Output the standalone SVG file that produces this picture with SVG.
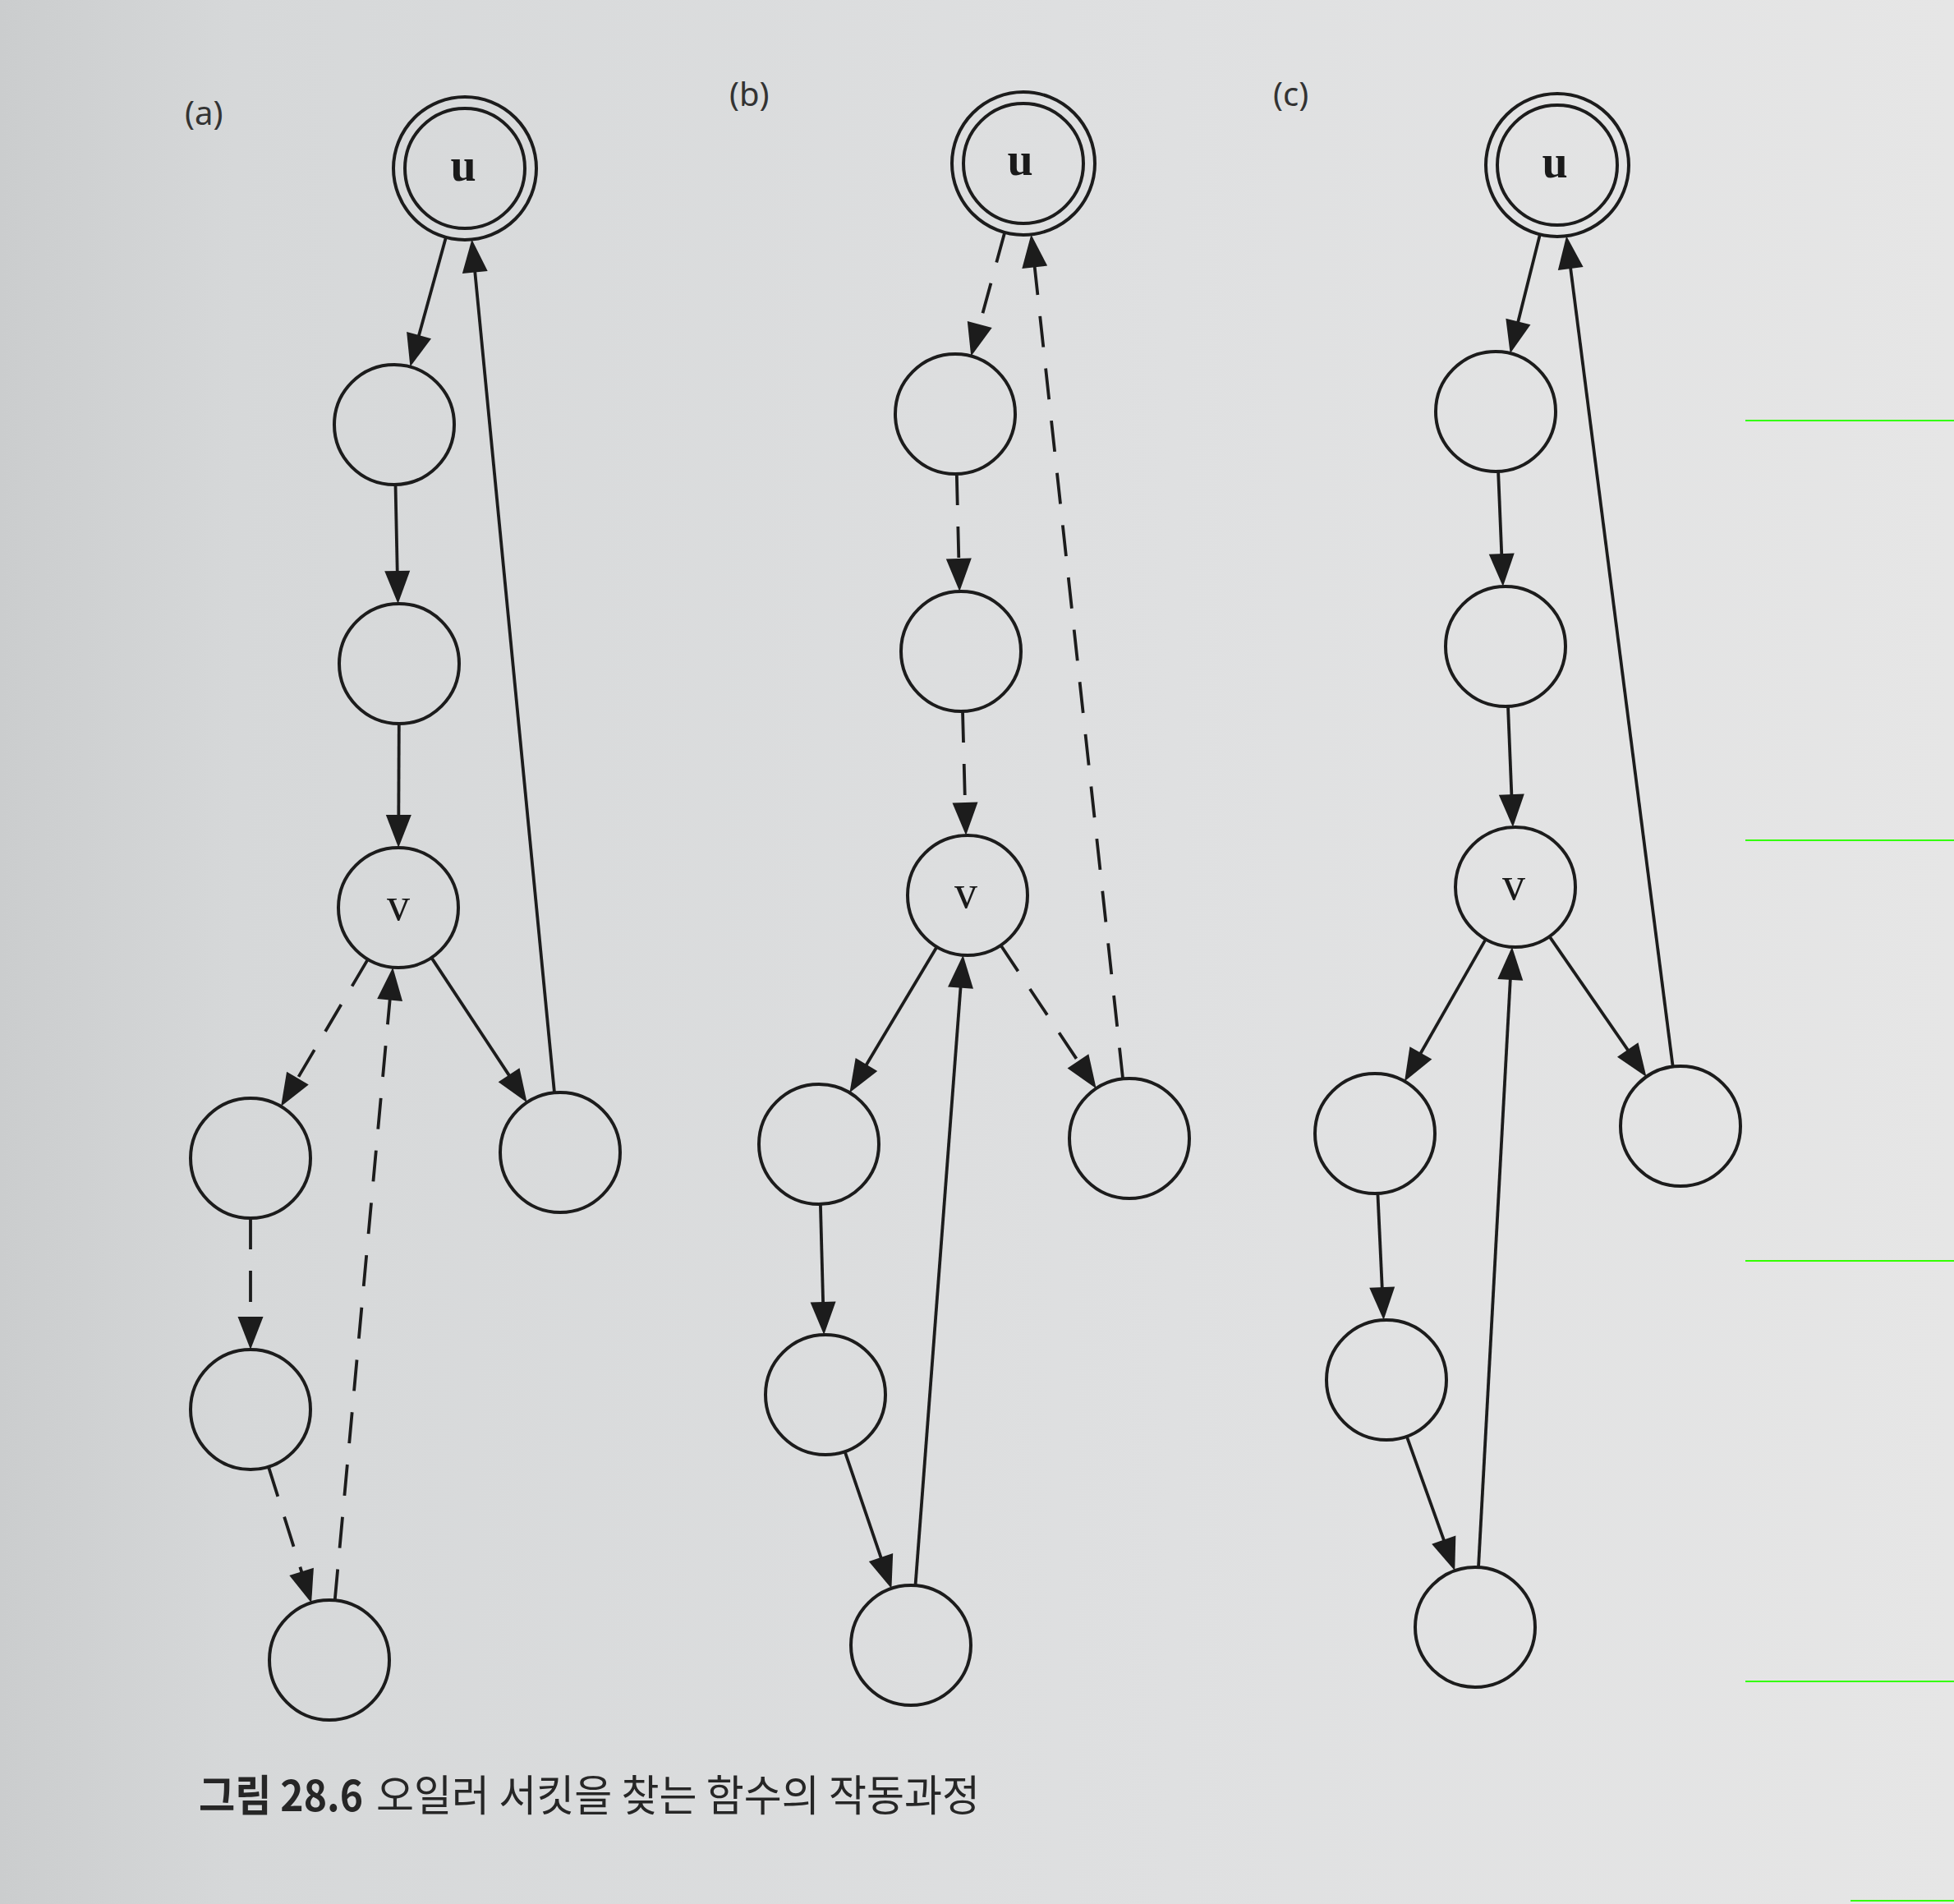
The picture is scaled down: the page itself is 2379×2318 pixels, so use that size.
<svg xmlns="http://www.w3.org/2000/svg" width="2379" height="2318" viewBox="0 0 2379 2318">
<defs>
<linearGradient id="paper" x1="0" y1="0" x2="1" y2="0">
<stop offset="0" stop-color="#cbcdce"/>
<stop offset="0.12" stop-color="#d6d8d9"/>
<stop offset="0.6" stop-color="#dfe0e1"/>
<stop offset="1" stop-color="#e6e6e6"/>
</linearGradient>
<marker id="ah" markerUnits="userSpaceOnUse" viewBox="-6 -18 44 36" refX="0" refY="0" markerWidth="44" markerHeight="36" orient="auto" overflow="visible">
<path d="M-4,-15.5 L36,0 L-4,15.5 z" fill="#1c1c1c" stroke="none"/>
</marker>
<style>
.n{fill:none;stroke:#1c1c1c;stroke-width:4}
.e{fill:none;stroke:#1c1c1c;stroke-width:3.8;marker-end:url(#ah)}
.d{stroke-dasharray:38 26}
.lbl{font-family:"Liberation Serif","DejaVu Serif",serif;font-size:56px;fill:#1a1a1a;text-anchor:middle}
.bu{font-weight:bold}
.pl{font-family:"Noto Sans","Open Sans",sans-serif;font-size:40px;fill:#333333}
.cap{font-family:"Noto Sans CJK KR","Noto Sans",sans-serif;font-size:52px;fill:#262626}
.g{stroke:#33ff00;stroke-width:2}
</style>
</defs>
<rect x="0" y="0" width="2379" height="2318" fill="url(#paper)"/>

<g id="labels">
<text class="pl" x="225" y="152">(a)</text>
<text class="pl" x="888" y="129">(b)</text>
<text class="pl" x="1550" y="129">(c)</text>
</g>

<!-- Panel (a) nodes -->
<g id="a-u"><circle class="n" cx="566" cy="205" r="87"/><circle class="n" cx="566" cy="205" r="73"/><text class="lbl bu" x="564" y="220">u</text></g>
<g id="a-n1"><circle class="n" cx="480" cy="517" r="73"/></g>
<g id="a-n2"><circle class="n" cx="486" cy="808" r="73"/></g>
<g id="a-v"><circle class="n" cx="485" cy="1105" r="73"/><text class="lbl" x="485" y="1120">v</text></g>
<g id="a-n4"><circle class="n" cx="305" cy="1410" r="73"/></g>
<g id="a-n5"><circle class="n" cx="305" cy="1716" r="73"/></g>
<g id="a-n6"><circle class="n" cx="401" cy="2021" r="73"/></g>
<g id="a-n7"><circle class="n" cx="682" cy="1403" r="73"/></g>

<!-- Panel (b) nodes -->
<g id="b-u"><circle class="n" cx="1246" cy="199" r="87"/><circle class="n" cx="1246" cy="199" r="73"/><text class="lbl bu" x="1242" y="213">u</text></g>
<g id="b-n1"><circle class="n" cx="1163" cy="504" r="73"/></g>
<g id="b-n2"><circle class="n" cx="1170" cy="793" r="73"/></g>
<g id="b-v"><circle class="n" cx="1178" cy="1090" r="73"/><text class="lbl" x="1176" y="1105">v</text></g>
<g id="b-n4"><circle class="n" cx="997" cy="1393" r="73"/></g>
<g id="b-n5"><circle class="n" cx="1005" cy="1698" r="73"/></g>
<g id="b-n6"><circle class="n" cx="1109" cy="2003" r="73"/></g>
<g id="b-n7"><circle class="n" cx="1375" cy="1386" r="73"/></g>

<!-- Panel (c) nodes -->
<g id="c-u"><circle class="n" cx="1896" cy="201" r="87"/><circle class="n" cx="1896" cy="201" r="73"/><text class="lbl bu" x="1893" y="216">u</text></g>
<g id="c-n1"><circle class="n" cx="1821" cy="501" r="73"/></g>
<g id="c-n2"><circle class="n" cx="1833" cy="787" r="73"/></g>
<g id="c-v"><circle class="n" cx="1845" cy="1080" r="73"/><text class="lbl" x="1843" y="1095">v</text></g>
<g id="c-n4"><circle class="n" cx="1674" cy="1380" r="73"/></g>
<g id="c-n5"><circle class="n" cx="1688" cy="1680" r="73"/></g>
<g id="c-n6"><circle class="n" cx="1796" cy="1981" r="73"/></g>
<g id="c-n7"><circle class="n" cx="2046" cy="1371" r="73"/></g>

<g id="connectors">
<!-- (a) -->
<line class="e" x1="542.9" y1="288.9" x2="509.0" y2="411.9"/>
<line class="e" x1="481.5" y1="590" x2="483.8" y2="699"/>
<line class="e" x1="485.8" y1="881" x2="485.3" y2="996"/>
<line class="e" x1="525.3" y1="1165.9" x2="621.8" y2="1312.1"/>
<line class="e" x1="675.0" y1="1330.3" x2="577.9" y2="327.4"/>
<line class="e d" x1="447.9" y1="1167.9" x2="360.4" y2="1316.1"/>
<line class="e d" x1="305" y1="1483" x2="305" y2="1607"/>
<line class="e d" x1="326.9" y1="1785.6" x2="368.3" y2="1917.1"/>
<line class="e d" x1="407.7" y1="1948.3" x2="475.0" y2="1213.5"/>
<!-- (b) -->
<line class="e d" x1="1223.2" y1="282.9" x2="1191.7" y2="398.9"/>
<line class="e d" x1="1164.8" y1="577" x2="1167.4" y2="684"/>
<line class="e d" x1="1172.0" y1="866" x2="1175.1" y2="981"/>
<line class="e d" x1="1218.4" y1="1150.8" x2="1314.7" y2="1295.2"/>
<line class="e d" x1="1367.1" y1="1313.4" x2="1259.3" y2="321.3"/>
<line class="e" x1="1140.6" y1="1152.7" x2="1052.9" y2="1299.4"/>
<line class="e" x1="998.9" y1="1466" x2="1002.2" y2="1589"/>
<line class="e" x1="1028.6" y1="1767.1" x2="1073.8" y2="1899.8"/>
<line class="e" x1="1114.5" y1="1930.2" x2="1169.8" y2="1198.7"/>
<!-- (c) -->
<line class="e" x1="1874.9" y1="285.4" x2="1847.4" y2="395.3"/>
<line class="e" x1="1824.1" y1="573.9" x2="1828.4" y2="678.1"/>
<line class="e" x1="1836.0" y1="859.9" x2="1840.5" y2="971.1"/>
<line class="e" x1="1886.5" y1="1140.1" x2="1984.0" y2="1281.3"/>
<line class="e" x1="2036.7" y1="1298.6" x2="1911.7" y2="323.0"/>
<line class="e" x1="1808.9" y1="1143.4" x2="1727.9" y2="1285.3"/>
<line class="e" x1="1677.4" y1="1452.9" x2="1682.9" y2="1571.1"/>
<line class="e" x1="1712.7" y1="1748.7" x2="1759.1" y2="1878.4"/>
<line class="e" x1="1800.0" y1="1908.1" x2="1839.0" y2="1188.8"/>
</g>

<g id="marks">
<line class="g" x1="2125" y1="512" x2="2379" y2="512"/>
<line class="g" x1="2125" y1="1023" x2="2379" y2="1023"/>
<line class="g" x1="2125" y1="1535" x2="2379" y2="1535"/>
<line class="g" x1="2125" y1="2047" x2="2379" y2="2047"/>
<line class="g" x1="2253" y1="2314" x2="2379" y2="2314"/>
</g>

<g id="caption">
<text class="cap" x="242" y="2205" font-weight="bold" textLength="200" lengthAdjust="spacingAndGlyphs">그림 28.6</text>
<text class="cap" x="458" y="2205" textLength="735" lengthAdjust="spacingAndGlyphs">오일러 서킷을 찾는 함수의 작동과정</text>
</g>
</svg>
